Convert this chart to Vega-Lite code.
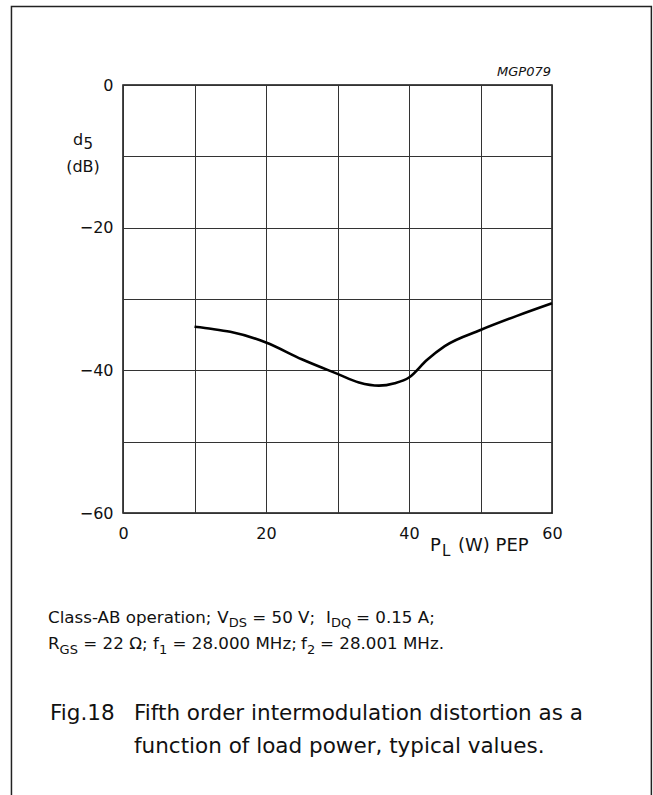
{
  "$schema": "https://vega.github.io/schema/vega-lite/v6.json",
  "width": 429,
  "height": 428,
  "autosize": {"type": "none"},
  "padding": {"left": 123, "top": 85, "right": 101, "bottom": 282},
  "background": "white",
  "config": {
    "font": "DejaVu Sans",
    "view": {"stroke": "#111", "strokeWidth": 1.5},
    "text": {"font": "DejaVu Sans", "fontWeight": "normal", "color": "#111"}
  },
  "data": {"values": [
    {"p": 10, "d5": -33.9},
    {"p": 12.5, "d5": -34.2},
    {"p": 15, "d5": -34.6},
    {"p": 20, "d5": -36.1},
    {"p": 25, "d5": -38.45},
    {"p": 30, "d5": -40.5},
    {"p": 33, "d5": -41.7},
    {"p": 35.8, "d5": -42.15},
    {"p": 38, "d5": -41.8},
    {"p": 40, "d5": -41.0},
    {"p": 42.5, "d5": -38.55},
    {"p": 45, "d5": -36.6},
    {"p": 50, "d5": -34.35},
    {"p": 55, "d5": -32.4},
    {"p": 60, "d5": -30.6}
  ]},
  "encoding": {
    "x": {"type": "quantitative",
      "scale": {"domain": [0, 60], "nice": false, "zero": false},
      "axis": {"title": null, "values": [0, 10, 20, 30, 40, 50, 60],
        "labelExpr": "datum.value % 20 == 0 ? datum.label : ''",
        "grid": true, "gridColor": "#333", "gridWidth": 1, "gridOpacity": 1,
        "domain": false, "ticks": false, "labelFlush": false,
        "labelFont": "DejaVu Sans", "labelFontSize": 16, "labelColor": "#111",
        "labelPadding": 12}},
    "y": {"type": "quantitative",
      "scale": {"domain": [-60, 0], "nice": false, "zero": false},
      "axis": {"title": null, "values": [-60, -50, -40, -30, -20, -10, 0],
        "labelExpr": "datum.value % 20 == 0 ? replace(datum.label, '-', '–') : ''",
        "grid": true, "gridColor": "#333", "gridWidth": 1, "gridOpacity": 1,
        "domain": false, "ticks": false, "labelFlush": false,
        "labelFont": "DejaVu Sans", "labelFontSize": 16, "labelColor": "#111",
        "labelPadding": 10}}
  },
  "layer": [
    {
      "mark": {"type": "line", "color": "#000", "strokeWidth": 2.6, "interpolate": "monotone"},
      "encoding": {
        "x": {"field": "p", "type": "quantitative"},
        "y": {"field": "d5", "type": "quantitative"}
      }
    },
    {
      "data": {"values": [{}]},
      "mark": {"type": "rect", "fillOpacity": 0, "stroke": "#222", "strokeWidth": 1.5, "clip": false},
      "encoding": {
        "x": {"datum": -15.6},
        "x2": {"datum": 73.9},
        "y": {"datum": 11.0},
        "y2": {"datum": -120}
      }
    },
    {
      "data": {"values": [{}]},
      "mark": {"type": "text", "text": "MGP079", "fontSize": 13, "fontStyle": "italic", "align": "right", "baseline": "alphabetic"},
      "encoding": {"x": {"datum": 59.86}, "y": {"datum": 1.26}}
    },
    {
      "data": {"values": [{}]},
      "mark": {"type": "text", "text": "d", "fontSize": 16, "align": "left", "baseline": "alphabetic"},
      "encoding": {"x": {"datum": -6.99}, "y": {"datum": -8.41}}
    },
    {
      "data": {"values": [{}]},
      "mark": {"type": "text", "text": "5", "fontSize": 15, "align": "left", "baseline": "alphabetic"},
      "encoding": {"x": {"datum": -5.52}, "y": {"datum": -8.97}}
    },
    {
      "data": {"values": [{}]},
      "mark": {"type": "text", "text": "(dB)", "fontSize": 16, "align": "center", "baseline": "alphabetic"},
      "encoding": {"x": {"datum": -5.59}, "y": {"datum": -12.13}}
    },
    {
      "data": {"values": [{}]},
      "mark": {"type": "text", "text": "P", "fontSize": 18, "align": "left", "baseline": "alphabetic"},
      "encoding": {"x": {"datum": 42.94}, "y": {"datum": -65.33}}
    },
    {
      "data": {"values": [{}]},
      "mark": {"type": "text", "text": "L", "fontSize": 15, "align": "left", "baseline": "alphabetic"},
      "encoding": {"x": {"datum": 44.62}, "y": {"datum": -66.03}}
    },
    {
      "data": {"values": [{}]},
      "mark": {"type": "text", "text": "(W) PEP", "fontSize": 18, "align": "left", "baseline": "alphabetic"},
      "encoding": {"x": {"datum": 46.85}, "y": {"datum": -65.33}}
    },
    {
      "data": {"values": [{}]},
      "mark": {"type": "text", "text": "Class-AB operation;", "fontSize": 16.7, "align": "left", "baseline": "alphabetic"},
      "encoding": {"x": {"datum": -10.49}, "y": {"datum": -75.42}}
    },
    {
      "data": {"values": [{}]},
      "mark": {"type": "text", "text": "V", "fontSize": 16.7, "align": "left", "baseline": "alphabetic"},
      "encoding": {"x": {"datum": 13.19}, "y": {"datum": -75.42}}
    },
    {
      "data": {"values": [{}]},
      "mark": {"type": "text", "text": "DS", "fontSize": 13, "align": "left", "baseline": "alphabetic"},
      "encoding": {"x": {"datum": 14.78}, "y": {"datum": -76.05}}
    },
    {
      "data": {"values": [{}]},
      "mark": {"type": "text", "text": "= 50 V;", "fontSize": 16.7, "align": "left", "baseline": "alphabetic"},
      "encoding": {"x": {"datum": 18.08}, "y": {"datum": -75.42}}
    },
    {
      "data": {"values": [{}]},
      "mark": {"type": "text", "text": "I", "fontSize": 16.7, "align": "left", "baseline": "alphabetic"},
      "encoding": {"x": {"datum": 28.39}, "y": {"datum": -75.42}}
    },
    {
      "data": {"values": [{}]},
      "mark": {"type": "text", "text": "DQ", "fontSize": 13, "align": "left", "baseline": "alphabetic"},
      "encoding": {"x": {"datum": 29.09}, "y": {"datum": -76.05}}
    },
    {
      "data": {"values": [{}]},
      "mark": {"type": "text", "text": "= 0.15 A;", "fontSize": 16.7, "align": "left", "baseline": "alphabetic"},
      "encoding": {"x": {"datum": 32.59}, "y": {"datum": -75.42}}
    },
    {
      "data": {"values": [{}]},
      "mark": {"type": "text", "text": "R", "fontSize": 16.7, "align": "left", "baseline": "alphabetic"},
      "encoding": {"x": {"datum": -10.49}, "y": {"datum": -79.07}}
    },
    {
      "data": {"values": [{}]},
      "mark": {"type": "text", "text": "GS", "fontSize": 13, "align": "left", "baseline": "alphabetic"},
      "encoding": {"x": {"datum": -8.87}, "y": {"datum": -79.7}}
    },
    {
      "data": {"values": [{}]},
      "mark": {"type": "text", "text": "= 22 Ω;", "fontSize": 16.7, "align": "left", "baseline": "alphabetic"},
      "encoding": {"x": {"datum": -5.55}, "y": {"datum": -79.07}}
    },
    {
      "data": {"values": [{}]},
      "mark": {"type": "text", "text": "f", "fontSize": 16.7, "align": "left", "baseline": "alphabetic"},
      "encoding": {"x": {"datum": 4.2}, "y": {"datum": -79.07}}
    },
    {
      "data": {"values": [{}]},
      "mark": {"type": "text", "text": "1", "fontSize": 13, "align": "left", "baseline": "alphabetic"},
      "encoding": {"x": {"datum": 5.03}, "y": {"datum": -79.7}}
    },
    {
      "data": {"values": [{}]},
      "mark": {"type": "text", "text": "= 28.000 MHz;", "fontSize": 16.7, "align": "left", "baseline": "alphabetic"},
      "encoding": {"x": {"datum": 6.92}, "y": {"datum": -79.07}}
    },
    {
      "data": {"values": [{}]},
      "mark": {"type": "text", "text": "f", "fontSize": 16.7, "align": "left", "baseline": "alphabetic"},
      "encoding": {"x": {"datum": 24.9}, "y": {"datum": -79.07}}
    },
    {
      "data": {"values": [{}]},
      "mark": {"type": "text", "text": "2", "fontSize": 13, "align": "left", "baseline": "alphabetic"},
      "encoding": {"x": {"datum": 25.73}, "y": {"datum": -79.7}}
    },
    {
      "data": {"values": [{}]},
      "mark": {"type": "text", "text": "= 28.001 MHz.", "fontSize": 16.7, "align": "left", "baseline": "alphabetic"},
      "encoding": {"x": {"datum": 27.55}, "y": {"datum": -79.07}}
    },
    {
      "data": {"values": [{}]},
      "mark": {"type": "text", "text": "Fig.18", "fontSize": 21.5, "align": "left", "baseline": "alphabetic"},
      "encoding": {"x": {"datum": -10.21}, "y": {"datum": -89.02}}
    },
    {
      "data": {"values": [{}]},
      "mark": {"type": "text", "text": "Fifth order intermodulation distortion as a", "fontSize": 21.5, "align": "left", "baseline": "alphabetic"},
      "encoding": {"x": {"datum": 1.54}, "y": {"datum": -89.02}}
    },
    {
      "data": {"values": [{}]},
      "mark": {"type": "text", "text": "function of load power, typical values.", "fontSize": 21.5, "align": "left", "baseline": "alphabetic"},
      "encoding": {"x": {"datum": 1.54}, "y": {"datum": -93.6}}
    }
  ]
}
